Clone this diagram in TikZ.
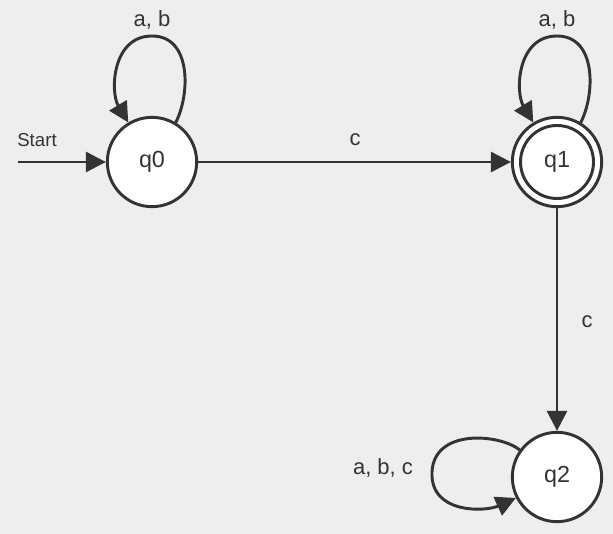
\documentclass[tikz,border=0pt]{standalone}
\usepackage{fontspec}
\setmainfont{Liberation Sans}
\usetikzlibrary{arrows.meta}
\definecolor{edgegray}{HTML}{333333}
\definecolor{bggray}{HTML}{EEEEEE}
\tikzset{every picture/.style={line width=2.2pt}}

\begin{document}
\begin{tikzpicture}[x=0.75pt,y=0.75pt,yscale=-1,xscale=1,
  state/.style={circle,draw=edgegray,fill=white,line width=2.2pt,minimum size=67pt,inner sep=0pt,text=edgegray,font=\fontsize{17.5}{20}\selectfont},
  lbl/.style={text=edgegray,inner sep=0.75pt,font=\fontsize{16.5}{19}\selectfont},
  arr/.style={draw=edgegray,line width=2.2pt,-{Triangle[length=15pt,width=15pt]}}]
%set diagram size 613 x 534
\fill[bggray] (0,0) rectangle (613,534);
\useasboundingbox (0,0) rectangle (613,534);

% States
\node[state] (q0) at (152,162) {q0};
\node[state] (q1) at (557,162) {q1};
\node[state] (q2) at (557,477) {q2};
\draw[edgegray,line width=2.2pt] (q1) circle[radius=36.5];
\coordinate (start) at (18,162);

% Start arrow
\draw[arr] (start) -- (q0);
% q0 -> q1
\draw[arr] (q0) -- (q1);
% q1 -> q2
\draw[arr] (q1) -- (q2);
% loop on q0
\draw[arr] (q0.59) .. controls (190,95) and (192,36) .. (152,36) .. controls (112,36) and (110,92) .. (q0.121);
% loop on q1
\draw[arr] (q1.59) .. controls (595,95) and (597,36) .. (557,36) .. controls (517,36) and (515,92) .. (q1.121);
% loop on q2
\draw[arr] (q2.144) .. controls (500,434) and (434,428) .. (432,472) .. controls (430,514) and (485,512) .. (q2.207);

% Text Nodes
\node[lbl,font=\fontsize{14}{16}\selectfont] (startlbl) at (37,140) {Start};
\node[lbl] (lab01) at (355,140) {c};
\node[lbl] (lab12) at (587,322) {c};
\node[lbl] (lab00) at (152,20) {a, b};
\node[lbl] (lab11) at (557,20) {a, b};
\node[lbl] (lab22) at (383,468) {a, b, c};

\end{tikzpicture}
\end{document}
